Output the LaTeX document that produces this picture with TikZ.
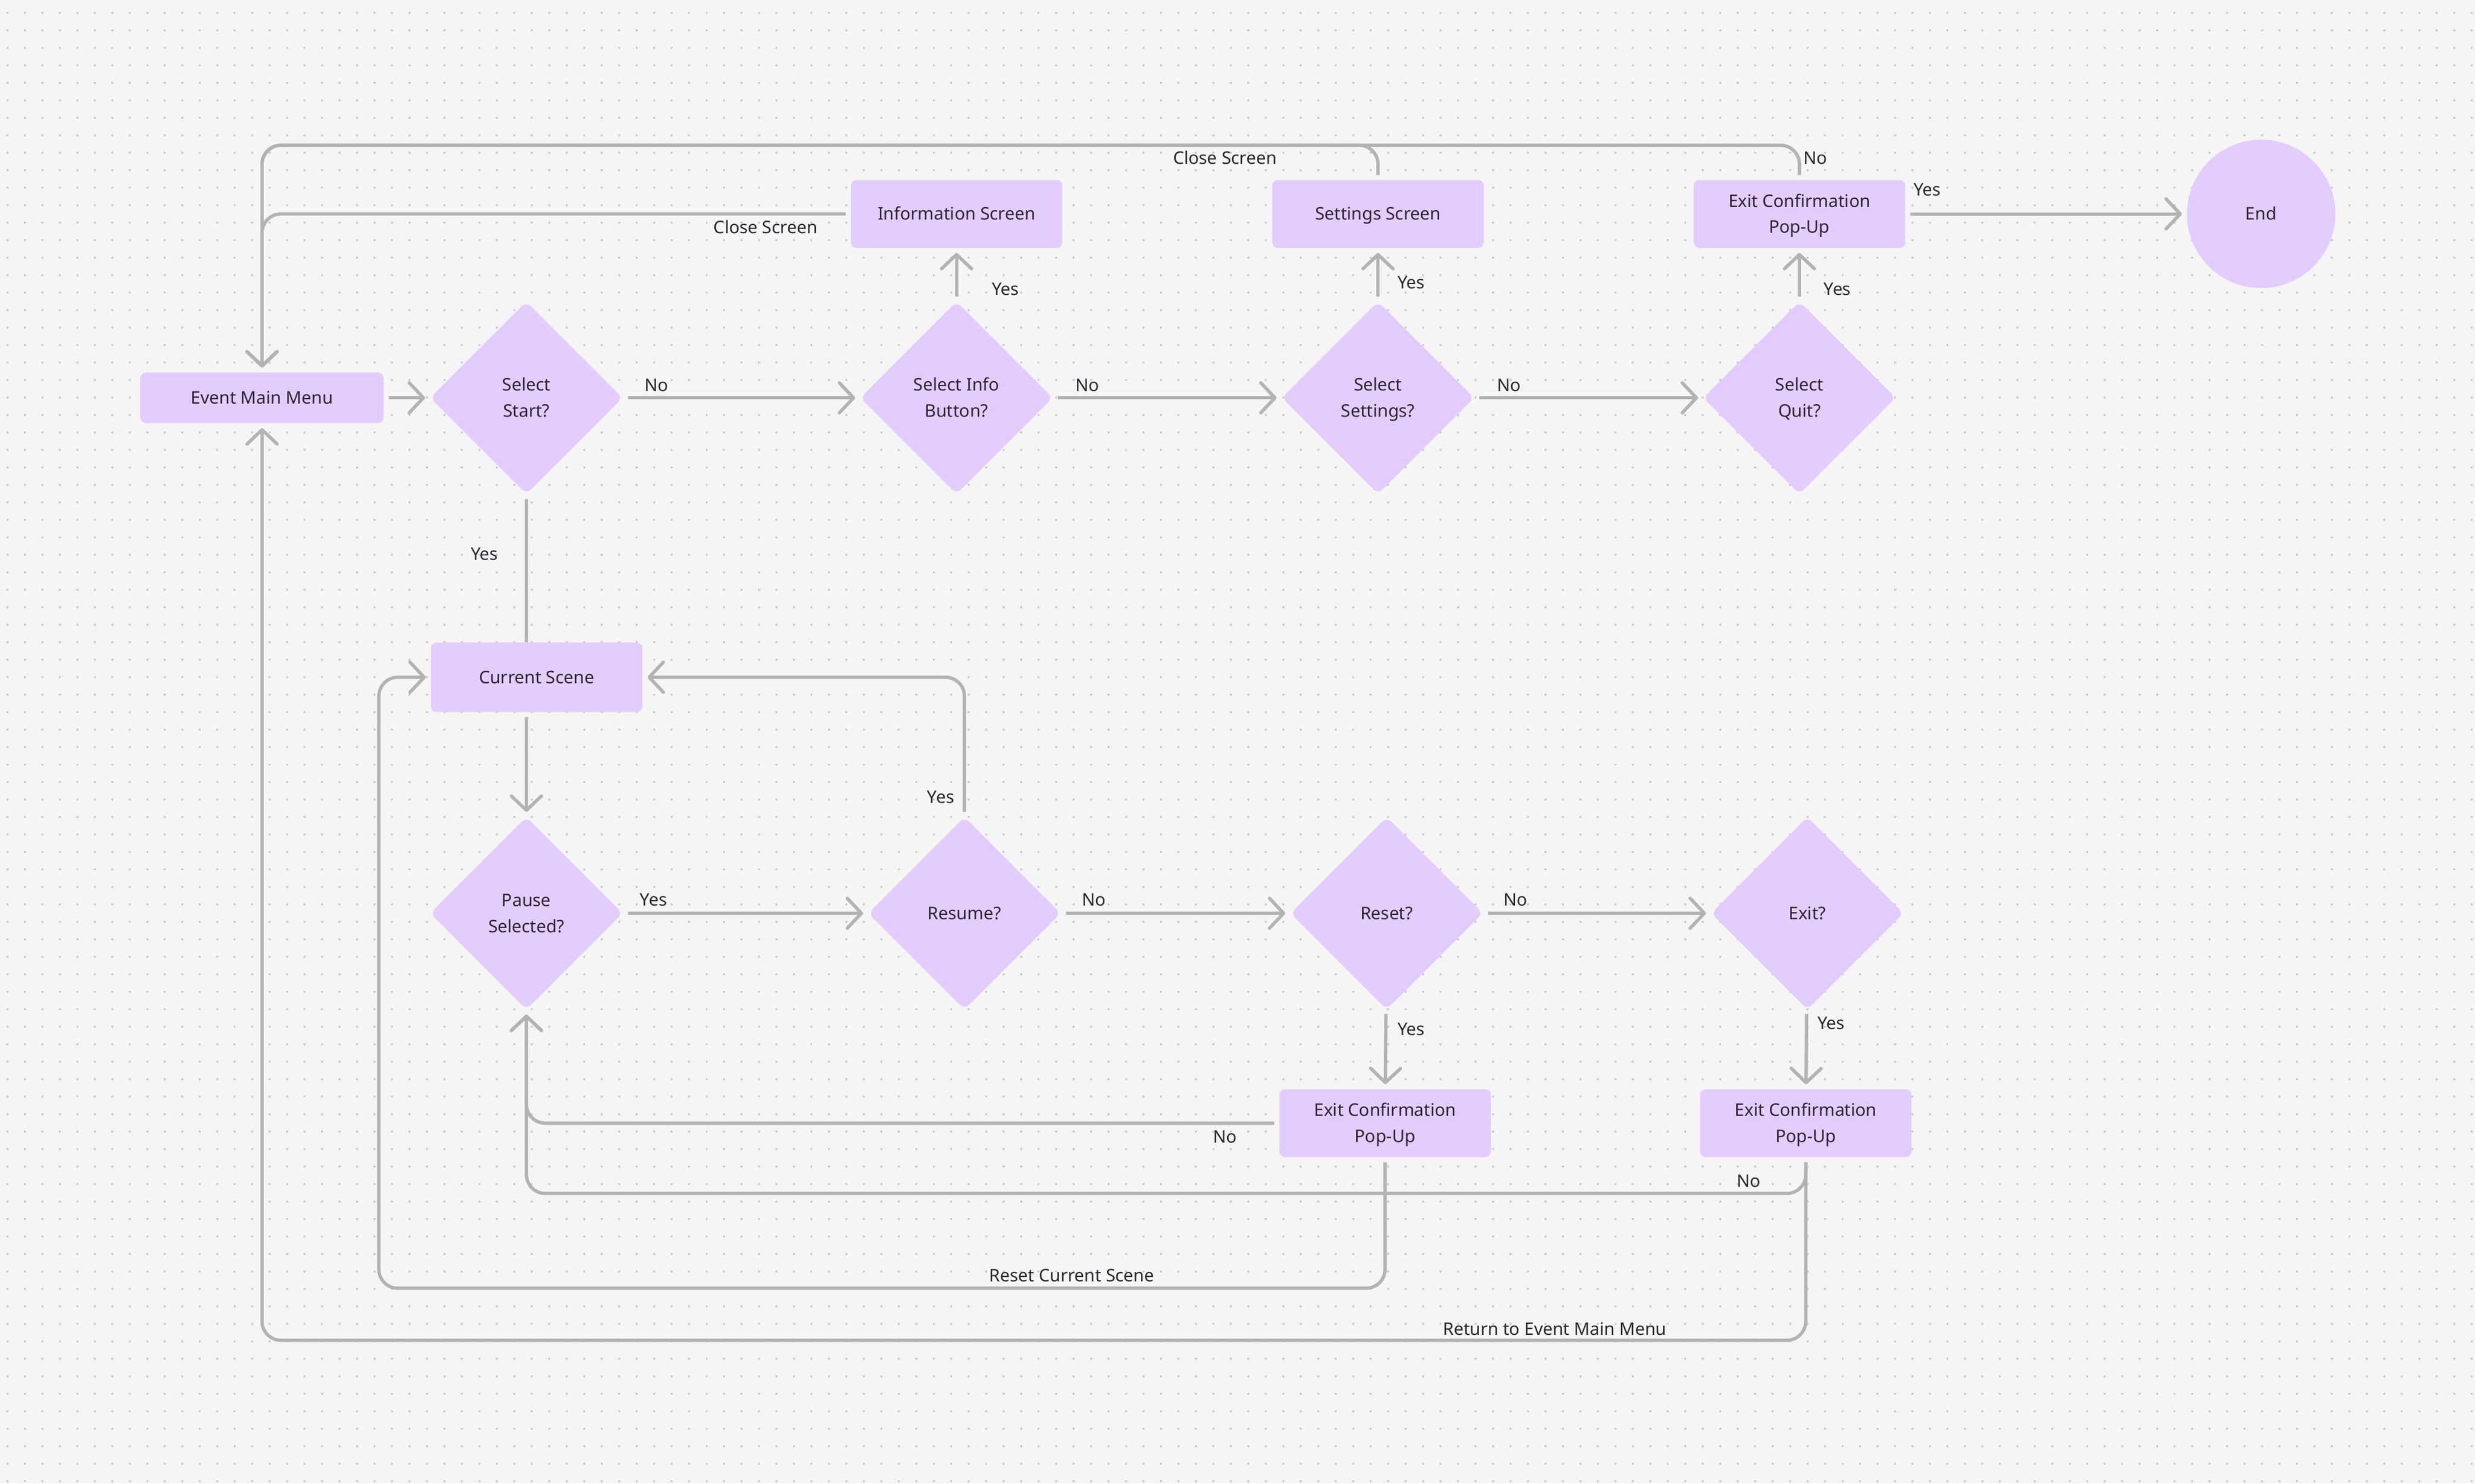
\documentclass[tikz,border=0pt]{standalone}
\usepackage{fontspec}
\setmainfont{Noto Sans}
\usetikzlibrary{shapes.geometric,arrows.meta}
\definecolor{bg}{HTML}{F5F5F5}
\definecolor{dotc}{HTML}{C8C8C8}
\definecolor{boxc}{HTML}{E3CCFE}
\definecolor{linec}{HTML}{B3B3B3}
\definecolor{txt}{HTML}{2B2730}
\newcommand\ntx[1]{\raisebox{-0.6pt}[\height][\depth]{\begin{tabular}{@{}c@{}}#1\end{tabular}}}
\tikzset{
  lbl/.style={text=txt, font=\fontsize{11}{16.5}\selectfont, inner sep=0pt},
  box/.style={rectangle, fill=boxc, rounded corners=3.5pt, minimum width=134pt, minimum height=43pt, text=txt, font=\fontsize{11}{16.5}\selectfont, inner sep=0pt},
  dec/.style={diamond, fill=boxc, rounded corners=4pt, minimum width=122pt, minimum height=122pt, aspect=1, inner sep=0pt, text=txt, font=\fontsize{11}{16.5}\selectfont},
  edge/.style={draw=linec, line width=2.1pt, rounded corners=12pt, shorten <=3pt, shorten >=3pt},
  arr/.style={-{Straight Barb[length=9pt,width=19pt,round]}}
}
\begin{document}
\begin{tikzpicture}[x=1pt,y=-1pt]
\fill[bg] (0,0) rectangle (1568,939.7);
\useasboundingbox (0,0) rectangle (1568,939.7);
\foreach \r in {0,...,84}{
  \pgfmathsetmacro{\yy}{8.2+\r*11.072}
  \draw[dotc, line width=1.4pt, line cap=round, dash pattern=on 0pt off 11.072pt] (4.74,\yy) -- (1568,\yy);
}
% nodes
\node[box, minimum width=154pt, minimum height=32pt] (emm) at (166,252) {\ntx{Event Main Menu}};
\node[dec] (sstart) at (333.5,252) {\ntx{Select\\Start?}};
\node[dec] (sinfo) at (606,252) {\ntx{Select Info\\Button?}};
\node[dec] (sset) at (873,252) {\ntx{Select\\Settings?}};
\node[dec] (squit) at (1140,252) {\ntx{Select\\Quit?}};
\node[box] (info) at (606,135.5) {\ntx{Information Screen}};
\node[box] (sets) at (873,135.5) {\ntx{Settings Screen}};
\node[box] (ext) at (1140,135.5) {\ntx{Exit Confirmation\\Pop-Up}};
\node[circle, fill=boxc, minimum size=94pt, inner sep=0pt, text=txt, font=\fontsize{11}{16.5}\selectfont] (end) at (1432.5,135.5) {\ntx{End}};
\node[box, minimum height=44pt] (cur) at (340,429) {\ntx{Current Scene}};
\node[dec] (pause) at (333.5,578.5) {\ntx{Pause\\Selected?}};
\node[dec] (resume) at (611,578.5) {\ntx{Resume?}};
\node[dec] (reset) at (878.5,578.5) {\ntx{Reset?}};
\node[dec] (exitq) at (1145,578.5) {\ntx{Exit?}};
\node[box] (exm) at (877.5,711.5) {\ntx{Exit Confirmation\\Pop-Up}};
\node[box] (exr) at (1144,711.5) {\ntx{Exit Confirmation\\Pop-Up}};
\coordinate (tl) at (166,92);
\coordinate (nr) at (333.5,756);
\coordinate (rs) at (240,816);
\coordinate (rm) at (166,849);
% edges
\draw[edge,arr] (emm) -- (sstart);
\draw[edge,arr] (sstart) -- (sinfo);
\draw[edge,arr] (sinfo) -- (sset);
\draw[edge,arr] (sset) -- (squit);
\draw[edge,arr] (sinfo) -- (info);
\draw[edge,arr] (sset) -- (sets);
\draw[edge,arr] (squit) -- (ext);
\draw[edge,arr] (ext) -- (end);
\draw[edge,arr] (info.west) -| (emm.north);
\draw[edge,arr] (sets.north) |- (tl) -- (emm.north);
\draw[edge,arr] (ext.north) |- (tl) -- (emm.north);
\draw[edge, shorten >=0pt] (sstart.south) -- (sstart.south |- cur.north);
\draw[edge,arr] (pause |- cur.south) -- (pause.north);
\draw[edge,arr] (pause) -- (resume);
\draw[edge,arr] (resume) -- (reset);
\draw[edge,arr] (reset) -- (exitq);
\draw[edge,arr] (resume.north) |- (cur.east);
\draw[edge,arr] (reset) -- (exm);
\draw[edge,arr] (exitq) -- (exr);
\draw[edge,arr] (exm.west) -| (pause.south);
\draw[edge,arr] (exr.south) |- (nr) -- (pause.south);
\draw[edge,arr] (exm.south) |- (rs) |- (cur.west);
\draw[edge,arr] (exr.south) |- (rm) -- (emm.south);
% labels
\node[lbl] (l1) at (416,244) {\ntx{No}};
\node[lbl] (l2) at (689,244) {\ntx{No}};
\node[lbl] (l3) at (956,244) {\ntx{No}};
\node[lbl] (l4) at (637,183) {\ntx{Yes}};
\node[lbl] (l5) at (894,179) {\ntx{Yes}};
\node[lbl] (l6) at (1164,183) {\ntx{Yes}};
\node[lbl] (l7) at (1221,120) {\ntx{Yes}};
\node[lbl] (l8) at (485,144) {\ntx{Close Screen}};
\node[lbl] (l9) at (776,100) {\ntx{Close Screen}};
\node[lbl] (l10) at (1150,100) {\ntx{No}};
\node[lbl] (l11) at (307,351) {\ntx{Yes}};
\node[lbl] (l12) at (414,570) {\ntx{Yes}};
\node[lbl] (l13) at (693,570) {\ntx{No}};
\node[lbl] (l14) at (960,570) {\ntx{No}};
\node[lbl] (l15) at (596,505) {\ntx{Yes}};
\node[lbl] (l16) at (894,652) {\ntx{Yes}};
\node[lbl] (l17) at (1160,648) {\ntx{Yes}};
\node[lbl] (l18) at (776,720) {\ntx{No}};
\node[lbl] (l19) at (1108,748) {\ntx{No}};
\node[lbl] (l20) at (679,808) {\ntx{Reset Current Scene}};
\node[lbl] (l21) at (985,842) {\ntx{Return to Event Main Menu}};
\end{tikzpicture}
\end{document}
